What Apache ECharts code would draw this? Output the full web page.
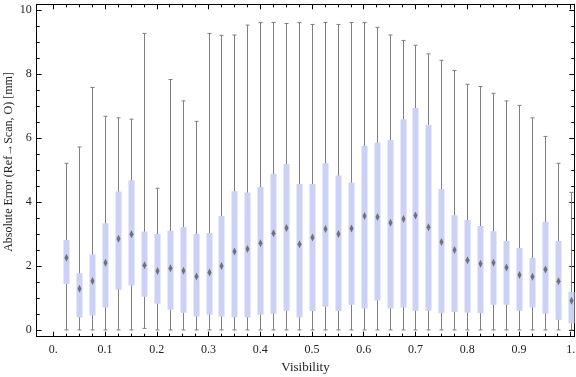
<!DOCTYPE html>
<html>
<head>
<meta charset="utf-8">
<script src="https://cdn.jsdelivr.net/npm/echarts@6/dist/echarts.min.js"></script>
<style>
html, body { margin: 0; padding: 0; background: #fff; }
#chart { width: 576px; height: 377px; }
</style>
</head>
<body>
<div id="chart"></div>
<script>
// box positions on the Visibility axis
var visibility = [0.025, 0.05, 0.075, 0.1, 0.125, 0.15, 0.175, 0.2, 0.225, 0.25,
    0.275, 0.3, 0.325, 0.35, 0.375, 0.4, 0.425, 0.45, 0.475, 0.5,
    0.525, 0.55, 0.575, 0.6, 0.625, 0.65, 0.675, 0.7, 0.725, 0.75,
    0.775, 0.8, 0.825, 0.85, 0.875, 0.9, 0.925, 0.95, 0.975, 1.0];
var mins = [0, 0, 0, 0, 0, 0, 0.05, 0, 0, 0,
    0, 0, 0, 0, 0, 0, 0, 0, 0, 0,
    0, 0, 0, 0, 0, 0, 0, 0, 0, 0,
    0, 0, 0, 0, 0, 0, 0, 0, 0, 0];
var q1s = [1.44, 0.39, 0.45, 0.70, 1.26, 1.39, 1.04, 0.82, 0.63, 0.54,
    0.42, 0.48, 0.42, 0.40, 0.39, 0.48, 0.51, 0.60, 0.39, 0.59,
    0.73, 0.59, 0.79, 0.67, 0.92, 0.67, 0.70, 0.60, 0.60, 0.52,
    0.56, 0.54, 0.52, 0.79, 0.79, 0.60, 0.70, 0.51, 0.31, 0.20];
var medians = [2.26, 1.29, 1.53, 2.10, 2.85, 2.99, 2.02, 1.84, 1.93, 1.85,
    1.67, 1.80, 2.00, 2.45, 2.53, 2.71, 3.02, 3.19, 2.68, 2.89,
    3.16, 3.00, 3.17, 3.56, 3.53, 3.35, 3.47, 3.58, 3.21, 2.75,
    2.50, 2.18, 2.07, 2.10, 1.95, 1.72, 1.66, 1.89, 1.52, 0.91];
var q3s = [2.81, 1.77, 2.36, 3.34, 4.33, 4.68, 3.08, 3.00, 3.10, 3.22,
    3.00, 3.03, 3.56, 4.34, 4.30, 4.47, 4.88, 5.19, 4.56, 4.56,
    5.21, 4.83, 4.61, 5.75, 5.86, 5.94, 6.59, 6.94, 6.41, 4.41,
    3.59, 3.44, 3.25, 3.09, 2.78, 2.56, 2.25, 3.38, 2.78, 1.19];
var maxs = [5.21, 5.72, 7.58, 6.68, 6.63, 6.59, 9.27, 4.43, 7.83, 7.16,
    6.52, 9.27, 9.21, 9.22, 9.53, 9.61, 9.61, 9.58, 9.61, 9.55,
    9.61, 9.55, 9.61, 9.61, 9.46, 9.22, 9.05, 8.90, 8.63, 8.43,
    8.11, 7.68, 7.61, 7.40, 7.16, 7.02, 6.63, 6.05, 5.21, 4.30];

// tick labels
var xTicks = [0, 0.1, 0.2, 0.3, 0.4, 0.5, 0.6, 0.7, 0.8, 0.9, 1];
var yTicks = [0, 2, 4, 6, 8, 10];

var xMinor = [];
for (var i = 0; i <= 40; i++) xMinor.push(i * 0.025);
var yMinor = [];
for (var j = 0; j <= 20; j++) yMinor.push(j * 0.5);

var rows = [];
for (var k = 0; k < visibility.length; k++) {
    rows.push([visibility[k], mins[k], q1s[k], medians[k], q3s[k], maxs[k]]);
}

var X_MIN = -0.0321, X_MAX = 1.007;
var Y_MIN = -0.21, Y_MAX = 10.18;
var font = 'Liberation Serif';

// extra axes only used to draw the frame ticks
function tickAxis(pos, vals, len, line) {
    var vertical = pos === 'left' || pos === 'right';
    return {
        type: 'value',
        position: pos,
        min: vertical ? Y_MIN : X_MIN,
        max: vertical ? Y_MAX : X_MAX,
        axisLine: { show: !!line, onZero: false, lineStyle: { color: '#000', width: 1 } },
        axisTick: { show: true, inside: true, length: len, customValues: vals,
            lineStyle: { color: '#000', width: 1 } },
        axisLabel: { show: false },
        splitLine: { show: false }
    };
}

var chart = echarts.init(document.getElementById('chart'));

var xMain = {
    type: 'value',
    position: 'bottom',
    min: X_MIN,
    max: X_MAX,
    name: 'Visibility',
    nameLocation: 'middle',
    nameGap: 23,
    nameTextStyle: { fontFamily: font, fontSize: 13, color: '#222' },
    axisLine: { show: true, onZero: false, lineStyle: { color: '#000', width: 1 } },
    axisTick: { show: true, inside: true, length: 5, customValues: xTicks,
        lineStyle: { color: '#000' } },
    axisLabel: {
        customValues: xTicks,
        margin: 7,
        fontFamily: font,
        fontSize: 12,
        color: '#222',
        formatter: function (v) {
            if (v === 0) return '0.';
            if (v === 1) return '1.';
            return v.toFixed(1);
        }
    },
    splitLine: { show: false }
};
var yMain = {
    type: 'value',
    position: 'left',
    min: Y_MIN,
    max: Y_MAX,
    axisLine: { show: true, onZero: false, lineStyle: { color: '#000', width: 1 } },
    axisTick: { show: true, inside: true, length: 5, customValues: yTicks,
        lineStyle: { color: '#000' } },
    axisLabel: {
        customValues: yTicks,
        margin: 5,
        fontFamily: font,
        fontSize: 12,
        color: '#222'
    },
    splitLine: { show: false }
};

chart.setOption({
    animation: false,
    grid: { left: 36.7, right: 1.7, top: 4.3, bottom: 40.3, outerBoundsMode: 'none' },
    graphic: [{
        type: 'text',
        x: 9,
        y: 162,
        rotation: Math.PI / 2,
        style: {
            text: 'Absolute Error (Ref\u2192Scan, O) [mm]',
            fontFamily: font,
            fontSize: 12,
            fill: '#222',
            align: 'center',
            verticalAlign: 'middle'
        }
    }],
    xAxis: [xMain, tickAxis('bottom', xMinor, 3), tickAxis('top', xTicks, 5, true), tickAxis('top', xMinor, 3)],
    yAxis: [yMain, tickAxis('left', yMinor, 3), tickAxis('right', yTicks, 5, true), tickAxis('right', yMinor, 3)],
    series: [{
        type: 'custom',
        xAxisIndex: 0,
        yAxisIndex: 0,
        clip: true,
        encode: { x: 0, y: [1, 2, 3, 4, 5] },
        data: rows,
        renderItem: function (params, api) {
            var x = api.value(0);
            var pLo = api.coord([x, api.value(1)]);
            var pQ1 = api.coord([x, api.value(2)]);
            var pMed = api.coord([x, api.value(3)]);
            var pQ3 = api.coord([x, api.value(4)]);
            var pHi = api.coord([x, api.value(5)]);
            var cx = Math.round(pLo[0]) + 0.5;
            var grey = '#7f7f7f';
            var my = pMed[1];
            return {
                type: 'group',
                children: [
                    { type: 'line', shape: { x1: cx, y1: pLo[1], x2: cx, y2: pHi[1] },
                        style: { stroke: grey, lineWidth: 1 } },
                    { type: 'line', shape: { x1: cx - 2, y1: pLo[1], x2: cx + 2, y2: pLo[1] },
                        style: { stroke: grey, lineWidth: 1 } },
                    { type: 'line', shape: { x1: cx - 2, y1: pHi[1], x2: cx + 2, y2: pHi[1] },
                        style: { stroke: grey, lineWidth: 1 } },
                    { type: 'rect', shape: { x: cx - 3, y: pQ3[1], width: 6, height: pQ1[1] - pQ3[1] },
                        style: { fill: '#ccd2f6' } },
                    { type: 'polygon', shape: { points: [[cx, my - 4], [cx + 2, my], [cx, my + 4], [cx - 2, my]] },
                        style: { fill: 'rgba(95,95,95,0.85)' } }
                ]
            };
        }
    }]
});
</script>
</body>
</html>
